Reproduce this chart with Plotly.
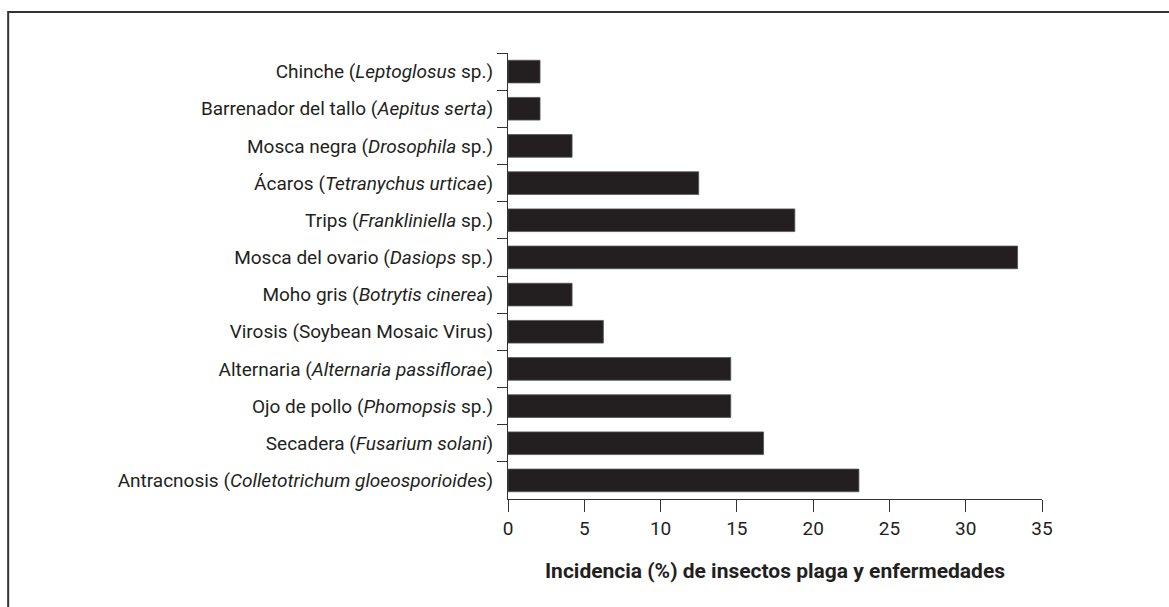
import plotly.graph_objects as go

categories = [
    "Chinche (<i>Leptoglosus</i> sp.)",
    "Barrenador del tallo (<i>Aepitus serta</i>)",
    "Mosca negra (<i>Drosophila</i> sp.)",
    "Ácaros (<i>Tetranychus urticae</i>)",
    "Trips (<i>Frankliniella</i> sp.)",
    "Mosca del ovario (<i>Dasiops</i> sp.)",
    "Moho gris (<i>Botrytis cinerea</i>)",
    "Virosis (Soybean Mosaic Virus)",
    "Alternaria (<i>Alternaria passiflorae</i>)",
    "Ojo de pollo (<i>Phomopsis</i> sp.)",
    "Secadera (<i>Fusarium solani</i>)",
    "Antracnosis (<i>Colletotrichum gloeosporioides</i>)",
]
incidence = [2.1, 2.1, 4.2, 12.5, 18.8, 33.4, 4.2, 6.25, 14.6, 14.6, 16.75, 23.0]
x_ticks = [0, 5, 10, 15, 20, 25, 30, 35]
x_title = "<b>Incidencia (%) de insectos plaga y enfermedades</b>"

FONT = "Roboto, Liberation Sans Narrow, sans-serif"
INK = "#231f20"

fig = go.Figure(
    go.Bar(
        y=categories,
        x=incidence,
        orientation="h",
        width=0.61,
        marker=dict(color=INK, line=dict(color="#555555", width=0.8)),
    )
)

fig.update_layout(
    width=1169,
    height=607,
    margin=dict(l=507.5, r=127, t=53, b=108),
    paper_bgcolor="white",
    plot_bgcolor="white",
    showlegend=False,
    font=dict(family=FONT, size=19, color=INK),
    xaxis=dict(
        range=[0, 35],
        tickvals=x_ticks,
        showline=True,
        linecolor="#333333",
        linewidth=1.3,
        ticks="outside",
        ticklen=12,
        tickwidth=1.3,
        tickcolor="#333333",
        showgrid=False,
        zeroline=False,
        tickfont=dict(size=19, family=FONT, color=INK),
        title=dict(text=x_title, font=dict(size=21, family=FONT, color=INK), standoff=24),
    ),
    yaxis=dict(
        categoryorder="array",
        categoryarray=categories,
        autorange="reversed",
        showline=True,
        linecolor="#333333",
        linewidth=1.3,
        ticks="outside",
        tickson="boundaries",
        ticklen=10,
        tickwidth=1.3,
        tickcolor="#333333",
        showgrid=False,
        zeroline=False,
        ticklabelstandoff=10,
        tickfont=dict(size=19, family=FONT, color=INK),
    ),
    shapes=[
        dict(
            type="path",
            xref="paper",
            yref="paper",
            path="M -0.936,-0.4 L -0.936,1.092 L 1.4,1.092",
            line=dict(color="#333333", width=2),
        )
    ],
)

fig.write_html(
    "out.html",
    config={"displayModeBar": False},
    post_script="document.body.style.margin='0';document.body.style.overflow='hidden';",
)
